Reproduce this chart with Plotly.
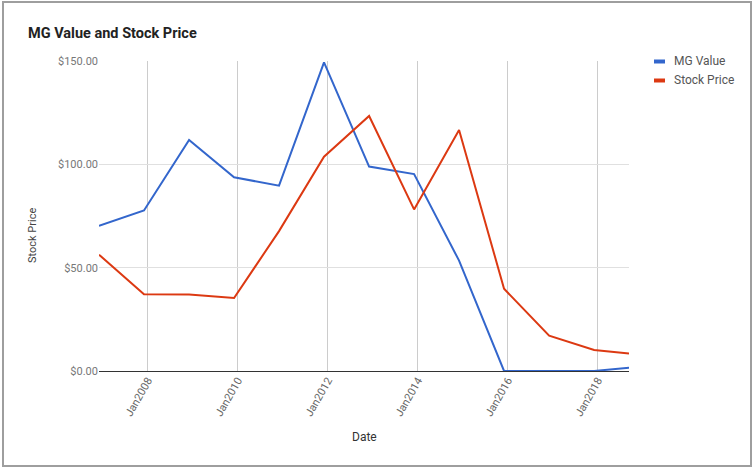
import plotly.graph_objects as go

dates = ["2006-12-01", "2007-12-01", "2008-12-01", "2009-12-01", "2010-12-01",
         "2011-12-01", "2012-12-01", "2013-12-01", "2014-12-01", "2015-12-01",
         "2016-12-01", "2017-12-01", "2018-09-10"]
mg_value = [70.2, 77.7, 111.8, 93.7, 89.7, 149.3, 98.9, 95.3, 53.4, 0.0, 0.0, 0.0, 1.6]
stock_price = [56.3, 37.1, 37.0, 35.3, 67.7, 103.7, 123.4, 78.2, 116.6, 39.8, 17.1, 10.2, 8.5]
series_names = ["MG Value", "Stock Price"]
series_colors = ["#3366cc", "#dc3912"]
y_ticks = [0, 50, 100, 150]
y_tick_labels = ["$0.00", "$50.00", "$100.00", "$150.00"]

FONT = "Roboto, Arial, sans-serif"
W, H = 753, 471
L, R, T, B = 99, 629, 61, 371  # plot area in pixels
PW, PH = R - L, B - T


def px(x):
    return (x - L) / PW


def py(y):
    return (B - y) / PH


fig = go.Figure()
for name, vals, col in zip(series_names, [mg_value, stock_price], series_colors):
    fig.add_trace(go.Scatter(x=dates, y=vals, mode="lines", name=name,
                             line=dict(color=col, width=2), showlegend=False))

annotations = [
    dict(text="Stock Price", textangle=-90, x=px(33), y=py(236), xref="paper", yref="paper",
         showarrow=False, xanchor="center", yanchor="middle",
         font=dict(family=FONT, size=11, color="#444")),
    dict(text="Date", x=px(364), y=py(437), xref="paper", yref="paper",
         showarrow=False, xanchor="center", yanchor="middle",
         font=dict(family=FONT, size=12, color="#333")),
]
shapes = [dict(type="rect", xref="paper", yref="paper",
               x0=px(3), x1=px(751), y0=py(466), y1=py(2),
               line=dict(color="#9e9e9e", width=2), fillcolor="rgba(0,0,0,0)", layer="below")]
for i, (name, col) in enumerate(zip(series_names, series_colors)):
    yc = 61.5 + i * 19
    shapes.append(dict(type="rect", xref="paper", yref="paper",
                       x0=px(654), x1=px(665), y0=py(yc + 2), y1=py(yc - 2),
                       line=dict(width=0), fillcolor=col))
    annotations.append(dict(text=name, x=px(672), y=py(yc), xref="paper", yref="paper",
                            showarrow=False, xanchor="left", yanchor="middle",
                            font=dict(family=FONT, size=12, color="#555")))

fig.update_layout(
    width=W, height=H,
    margin=dict(l=L, r=W - R, t=T, b=H - B),
    paper_bgcolor="white", plot_bgcolor="white",
    font=dict(family=FONT, color="#444"),
    title=dict(text="<b>MG Value and Stock Price</b>", x=28 / W, xanchor="left",
               y=1 - 33 / H, yanchor="middle",
               font=dict(family=FONT, size=14.5, color="#222")),
    showlegend=False,
    hovermode=False,
    xaxis=dict(
        type="date", range=[dates[0], dates[-1]],
        tick0="2008-01-01", dtick="M24", tickformat="%b%Y", tickangle=-60,
        showgrid=True, gridcolor="#cccccc", gridwidth=1,
        showline=False, zeroline=False, ticks="",
        tickfont=dict(family=FONT, size=11, color="#666"),
    ),
    yaxis=dict(
        range=[0, 150], tickvals=y_ticks, ticktext=y_tick_labels,
        showgrid=True, gridcolor="#e0e0e0", gridwidth=1,
        zeroline=True, zerolinecolor="#333333", zerolinewidth=1,
        tickfont=dict(family=FONT, size=11, color="#777"),
        ticks="", ticklen=0,
    ),
    annotations=annotations,
    shapes=shapes,
)

fig.write_html("out.html", config={"displayModeBar": False},
               post_script="document.body.style.margin='0';")
